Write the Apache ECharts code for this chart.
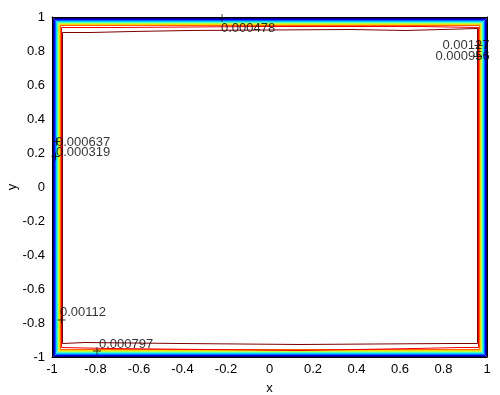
<!DOCTYPE html>
<html>
<head>
<meta charset="utf-8">
<script src="https://cdn.jsdelivr.net/npm/echarts@6/dist/echarts.min.js"></script>
<style>
html,body{margin:0;padding:0;background:#fff;}
#chart{width:500px;height:395px;}
</style>
</head>
<body>
<div id="chart"></div>
<script>
// contour levels (outer -> inner)
const levels = [0.000159, 0.000319, 0.000478, 0.000637, 0.000797, 0.000956, 0.00112, 0.00127, 0.00143, 0.00159];
const levelColors = ['#000080', '#0000F1', '#0063FF', '#00D4FF', '#47FFB8', '#B8FF47', '#FFD400', '#FF6300', '#F10000', '#800000'];
// edge positions of each contour (data units)
const leftX   = [-0.99310, -0.98851, -0.98391, -0.97931, -0.97471, -0.97011, -0.96552, -0.96092, -0.95632, -0.95172];
const rightX  = [0.99770, 0.99310, 0.98851, 0.98391, 0.97931, 0.97471, 0.97011, 0.96552, 0.96092, 0.95632];
const topY    = [0.99118, 0.98529, 0.97941, 0.97353, 0.96765, 0.96176, 0.95588, 0.95000, 0.94412, 0.92059];
const bottomY = [-0.99706, -0.99118, -0.98529, -0.97941, -0.97353, -0.96765, -0.96176, -0.95588, -0.95000, -0.92059];
// stepped top/bottom profiles of the two innermost contours
const redTopBreaks = [-0.68736, -0.04368, 0.69195];
const redTopY = [0.93824, 0.94412, 0.94412, 0.93824];
const redBottomBreaks = [-0.73333, 0.14023, 0.66897, 0.87586];
const redBottomY = [-0.94412, -0.95000, -0.96176, -0.95000, -0.94412];
const darkTopBreaks = [-0.82529, -0.62759, -0.36552, 0.37011, 0.62759];
const darkTopY = [0.90882, 0.91471, 0.92059, 0.92647, 0.92059, 0.93235];
const darkBottomBreaks = [-0.84828, -0.41149, 0.14023, 0.82989];
const darkBottomY = [-0.92059, -0.91471, -0.92059, -0.92647, -0.92059];
// contour labels
const labelText = ['0.000478', '0.00127', '0.000956', '0.000637', '0.000319', '0.00112', '0.000797'];
const labelX = [-0.22299, 0.79540, 0.76322, -0.98161, -0.98161, -0.96322, -0.78391];
const labelY = [0.93529, 0.83529, 0.77059, 0.26471, 0.20588, -0.73529, -0.92353];
const markerX = [-0.21839, 0.96092, 0.95632, -0.97931, -0.98391, -0.95632, -0.79310];
const markerY = [0.99412, 0.83235, 0.76765, 0.26765, 0.17941, -0.78235, -0.96471];

function stepProfile(x0, x1, breaks, ys) {
  const xs = [x0].concat(breaks, [x1]);
  const pts = [];
  for (let i = 0; i < ys.length; i++) {
    pts.push([xs[i], ys[i]]);
    pts.push([xs[i + 1], ys[i]]);
  }
  return pts;
}

function contourPoints(i) {
  const l = leftX[i], r = rightX[i];
  let top, bottom;
  if (i === 8) {
    top = stepProfile(l, r, redTopBreaks, redTopY);
    bottom = stepProfile(l, r, redBottomBreaks, redBottomY);
  } else if (i === 9) {
    top = stepProfile(l, r, darkTopBreaks, darkTopY);
    bottom = stepProfile(l, r, darkBottomBreaks, darkBottomY);
  } else {
    top = [[l, topY[i]], [r, topY[i]]];
    bottom = [[l, bottomY[i]], [r, bottomY[i]]];
  }
  const pts = [];
  top.forEach(p => pts.push(p));
  bottom.slice().reverse().forEach(p => pts.push(p));
  pts.push(top[0]);
  return pts;
}

const series = levels.map((lv, i) => ({
  type: 'line',
  name: String(lv),
  data: contourPoints(i),
  showSymbol: false,
  symbol: 'none',
  lineStyle: { color: levelColors[i], width: 1 },
  silent: true,
  animation: false,
  z: 2
}));

series.push({
  type: 'scatter',
  data: markerX.map((x, i) => [x, markerY[i]]),
  symbol: 'path://M4,0H5V4H9V5H5V9H4V5H0V4H4Z',
  symbolSize: 8,
  itemStyle: { color: '#000' },
  silent: true,
  animation: false,
  z: 4
});

series.push({
  type: 'scatter',
  data: labelX.map((x, i) => [x, labelY[i], labelText[i]]),
  symbolSize: 0,
  label: {
    show: true,
    position: 'right',
    distance: 0,
    formatter: p => p.data[2],
    color: '#000',
    fontFamily: 'Liberation Sans, Arial, sans-serif',
    fontSize: 13
  },
  silent: true,
  animation: false,
  z: 5
});

const axisFont = { color: '#000', fontFamily: 'Liberation Sans, Arial, sans-serif', fontSize: 13 };

const chart = echarts.init(document.getElementById('chart'), null, { renderer: 'canvas' });
chart.setOption({
  animation: false,
  backgroundColor: '#fff',
  grid: { left: 52, right: 13, top: 17, bottom: 38, containLabel: false, outerBoundsMode: 'none' },
  xAxis: [{
    type: 'value', min: -1, max: 1, interval: 0.2, position: 'bottom',
    name: 'x', nameLocation: 'middle', nameGap: 25, nameMoveOverlap: false, nameTextStyle: axisFont,
    axisLine: { onZero: false, lineStyle: { color: '#000', width: 1 } },
    axisTick: { inside: true, length: 5, lineStyle: { color: '#000' } },
    axisLabel: Object.assign({ margin: 6, formatter: v => String(Math.round(v * 10) / 10) }, axisFont),
    splitLine: { show: false }
  }, {
    type: 'value', min: -1, max: 1, interval: 0.2, position: 'top',
    axisLine: { onZero: false, lineStyle: { color: '#000', width: 1 } },
    axisTick: { inside: true, length: 5, lineStyle: { color: '#000' } },
    axisLabel: { show: false },
    splitLine: { show: false }
  }],
  yAxis: [{
    type: 'value', min: -1, max: 1, interval: 0.2, position: 'left',
    name: 'y', nameLocation: 'middle', nameGap: 33, nameMoveOverlap: false, nameTextStyle: axisFont,
    axisLine: { onZero: false, lineStyle: { color: '#000', width: 1 } },
    axisTick: { inside: true, length: 5, lineStyle: { color: '#000' } },
    axisLabel: Object.assign({ margin: 7, formatter: v => String(Math.round(v * 10) / 10) }, axisFont),
    splitLine: { show: false }
  }, {
    type: 'value', min: -1, max: 1, interval: 0.2, position: 'right',
    axisLine: { onZero: false, lineStyle: { color: '#000', width: 1 } },
    axisTick: { inside: true, length: 5, lineStyle: { color: '#000' } },
    axisLabel: { show: false },
    splitLine: { show: false }
  }],
  series: series
});
</script>
</body>
</html>
